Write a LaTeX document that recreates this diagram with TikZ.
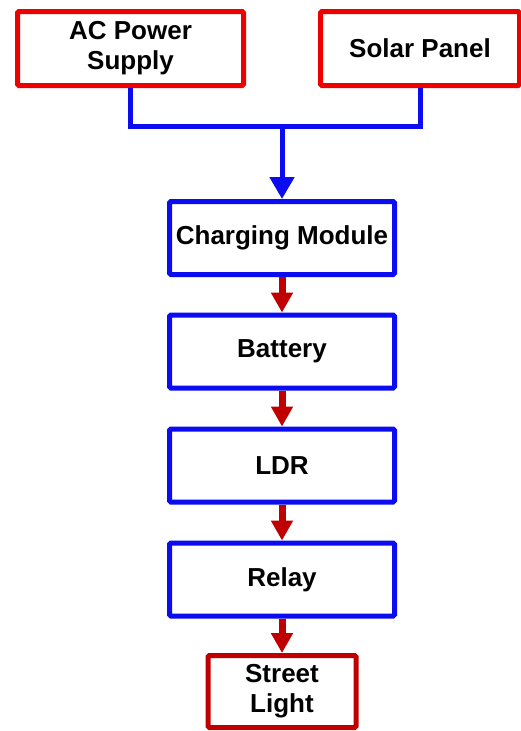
\documentclass[tikz,border=0pt]{standalone}
\usepackage{fontspec}
\setmainfont{Liberation Sans}
\usetikzlibrary{arrows.meta}
\definecolor{boxred}{RGB}{237,0,0}
\definecolor{darkred}{RGB}{192,0,0}
\definecolor{boxblue}{RGB}{12,12,240}
\tikzset{
  blk/.style={draw, line width=5pt, fill=white, rounded corners=1.5pt, align=center,
    inner sep=0pt, font=\bfseries\fontsize{26}{30}\selectfont, text=black},
  redblk/.style={blk, draw=boxred},
  blueblk/.style={blk, draw=boxblue, minimum width=225pt, minimum height=73pt},
  endblk/.style={blk, draw=darkred},
  blueline/.style={draw=boxblue, line width=5pt, line join=miter},
  bluearrow/.style={blueline, -{Triangle[length=22pt,width=24pt]}},
  redarrow/.style={draw=darkred, line width=7pt, -{Triangle[length=20pt,width=21pt]}},
}
\begin{document}
\begin{tikzpicture}[x=1pt,y=-1pt]
\useasboundingbox (0,0) rectangle (521,731);
\node[redblk, minimum width=226pt, minimum height=74pt] (ac) at (130.5,48.5) {AC Power\\Supply};
\node[redblk, minimum width=199pt, minimum height=74pt] (sp) at (420,48.5) {Solar Panel};
\node[blueblk] (cm) at (282,238) {Charging Module};
\node[blueblk] (bat) at (282,351.5) {Battery};
\node[blueblk] (ldr) at (282,465.5) {LDR};
\node[blueblk] (rel) at (282,579.5) {Relay};
\node[endblk, minimum width=148pt, minimum height=72pt] (sl) at (282,691.5) {Street\\Light};
\coordinate (j) at (282,126);
\draw[blueline] (ac.south) |- (j) -| (sp.south);
\draw[bluearrow] (j) -- (cm.north);
\draw[redarrow] (cm.south) -- (bat.north);
\draw[redarrow] (bat.south) -- (ldr.north);
\draw[redarrow] (ldr.south) -- (rel.north);
\draw[redarrow] (rel.south) -- (sl.north);
\end{tikzpicture}
\end{document}
